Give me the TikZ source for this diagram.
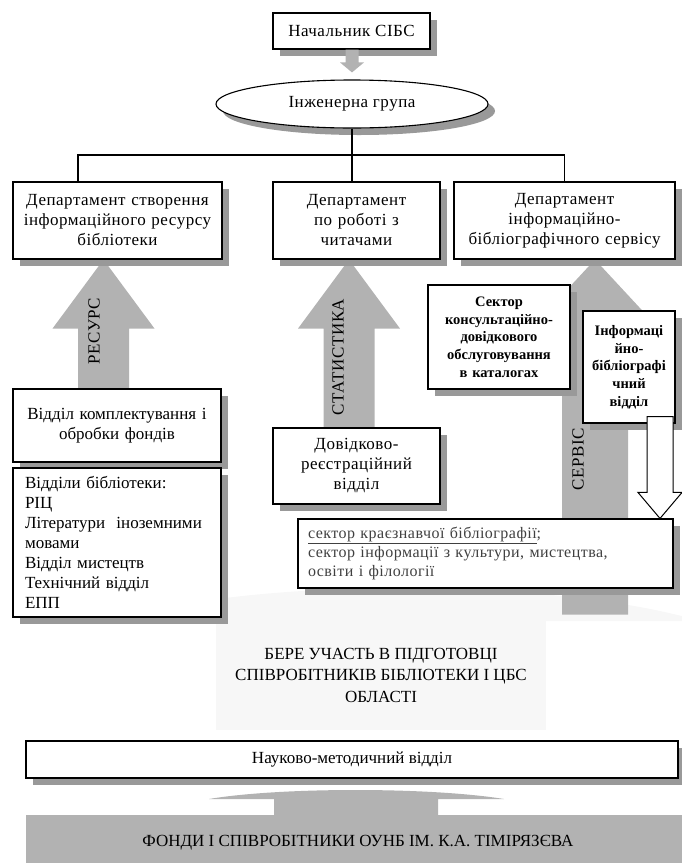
\documentclass[tikz,border=0pt]{standalone}
\usepackage{fontspec}
\setmainfont{Liberation Serif}
\newfontfamily\widefont{Liberation Serif}[LetterSpace=3]
\usetikzlibrary{calc, shapes.geometric, shadows}
\pgfdeclarelayer{background}
\pgfsetlayers{background,main}
\newcommand{\fs}[2]{\fontsize{#1}{#2}\selectfont}
% wide block arrow: [style]{tail}{tip}{head length}{half shaft}{half head}
\newcommand{\blockarrow}[6][]{%
  \fill[#1] let \p1=(#2), \p2=(#3), \n1={sign(\y2-\y1)} in
    (\x2,\y2) -- ({\x2+#6},{\y2-(\n1)*#4}) -- ({\x2+#5},{\y2-(\n1)*#4}) -- ({\x2+#5},\y1)
    -- ({\x2-#5},\y1) -- ({\x2-#5},{\y2-(\n1)*#4}) -- ({\x2-#6},{\y2-(\n1)*#4}) -- cycle;}

\begin{document}
\begin{tikzpicture}[x=1pt, y=-1pt,
    box/.style={draw, line width=1.1pt, fill=white, inner sep=0pt, align=center, font=\fs{17}{20},
      drop shadow={shadow xshift=7pt, shadow yshift=-7pt, fill=black!40, opacity=1}},
    widebox/.style={box, font=\widefont\fs{17}{20}},
    oval/.style={widebox, ellipse},
    boldbox/.style={box, font=\bfseries\fs{14.5}{17.7}},
    arrowfill/.style={fill=black!30},
    arrlabel/.style={rotate=90, font=\widefont\fs{17}{20}, inner sep=0pt},
    tree/.style={line width=1.1pt}
]
\useasboundingbox (0,0) rectangle (681,863);

\node[widebox, minimum width=157pt, minimum height=36pt] (chief) at (351.5,31) {Начальник СІБС};
\node[oval, minimum width=272pt, minimum height=48pt] (group) at (352,104) {Інженерна група};

\node[widebox, minimum width=209pt, minimum height=77pt, text width=205pt] (dep1) at (117.5,220.5)
  {Департамент створення\\ інформаційного ресурсу\\ бібліотеки};
\node[widebox, minimum width=167pt, minimum height=77pt, text width=158pt] (dep2) at (356.5,220.5)
  {Департамент\\ по роботі з\\ читачами};
\node[widebox, minimum width=221pt, minimum height=77pt, text width=215pt] (dep3) at (564.5,220.5)
  {Департамент\\ інформаційно-\\ бібліографічного сервісу};

\node[box, minimum width=208pt, minimum height=73pt, text width=200pt] (kompl) at (117,425.5)
  {Відділ комплектування і\\ обробки фондів};
\node[box, align=left, minimum width=208pt, minimum height=149pt, text width=184pt] (libs) at (117,542.5)
  {Відділи бібліотеки:\\ РІЦ\\ Літератури~~іноземними\\ мовами\\ Відділ мистецтв\\ Технічний відділ\\ ЕПП};

\node[widebox, minimum width=167pt, minimum height=76pt, text width=158pt] (dovid) at (356.5,466)
  {Довідково-\\ реєстраційний\\ відділ};

\node[boldbox, minimum width=142pt, minimum height=104pt, text width=136pt] (sector) at (499,337)
  {Сектор\\ консультаційно-\\ довідкового\\ обслуговування\\ в каталогах};
\node[boldbox, minimum width=92pt, minimum height=112pt, text width=88pt] (info) at (629,367)
  {Інформаці\\ йно-\\ бібліографі\\ чний\\ відділ};

\node[widebox, align=left, text=black!75, font=\widefont\fs{16}{19}, minimum width=375pt, minimum height=69pt, text width=355pt] (kray) at (485.5,553.5)
  {\underline{сектор краєзнавчої бібліографії};\\ сектор інформації з культури, мистецтва,\\ освіти і філології};

% white arrow down to the sectors
\coordinate (wtail) at ([xshift=31pt,yshift=7pt]info.south);
\blockarrow[fill=white, draw=black, line width=1pt]{wtail}{kray.north -| wtail}{26}{13}{22}

\node[box, minimum width=652pt, minimum height=37pt] (nauk) at (352,759.5) {Науково-методичний відділ};
\node[fill=black!30, inner sep=0pt, font=\fs{17}{20}, minimum width=664pt, minimum height=55pt] (funds) at (358,842.5)
  {ФОНДИ І СПІВРОБІТНИКИ ОУНБ ІМ. К.А. ТІМІРЯЗЄВА};
\fill[black!30] (274,815) -- (274,799) -- (209,799) .. controls (280,787) and (430,787) .. (504,799)
  -- (438,799) -- (438,815) -- cycle;

% tree
\coordinate (busL) at (78,155);
\draw[tree] (group.south) -- (group.south |- dep2.north);
\draw[tree] (busL |- dep1.north) -- (busL) -- (busL -| dep3.north) -- (dep3.north);

\blockarrow[arrowfill]{chief.south}{[yshift=7pt]group.north}{10}{6.5}{12}

\node[arrlabel] (reslab) at (94,331) {РЕСУРС};
\node[arrlabel] (statlab) at (338,357) {СТАТИСТИКА};
\node[arrlabel] (servlab) at (578,459) {СЕРВІС};

\begin{pgfonlayer}{background}
\node[fill=black!3, inner sep=0pt, align=center, font=\fs{17}{21.5}, minimum width=330pt, minimum height=110pt] (train) at (381,675)
  {БЕРЕ УЧАСТЬ В ПІДГОТОВЦІ\\ СПІВРОБІТНИКІВ БІБЛІОТЕКИ І ЦБС\\ ОБЛАСТІ};
\fill[black!3] (216,621) -- (110,621) .. controls (250,577) and (550,577) .. (700,621) -- (546,621) -- cycle;
\coordinate (restip) at ([xshift=-14pt]dep1.south);
\coordinate (stattip) at ([xshift=-7.5pt]dep2.south);
\coordinate (servtip) at ([xshift=30.5pt]dep3.south);
\blockarrow[arrowfill]{kompl.north}{restip}{69}{25.5}{51}
\blockarrow[arrowfill]{dovid.north}{stattip}{69}{25.5}{51}
\blockarrow[arrowfill]{[yshift=-26pt]kray.south}{servtip}{69}{33}{64}
\end{pgfonlayer}
\end{tikzpicture}
\end{document}
